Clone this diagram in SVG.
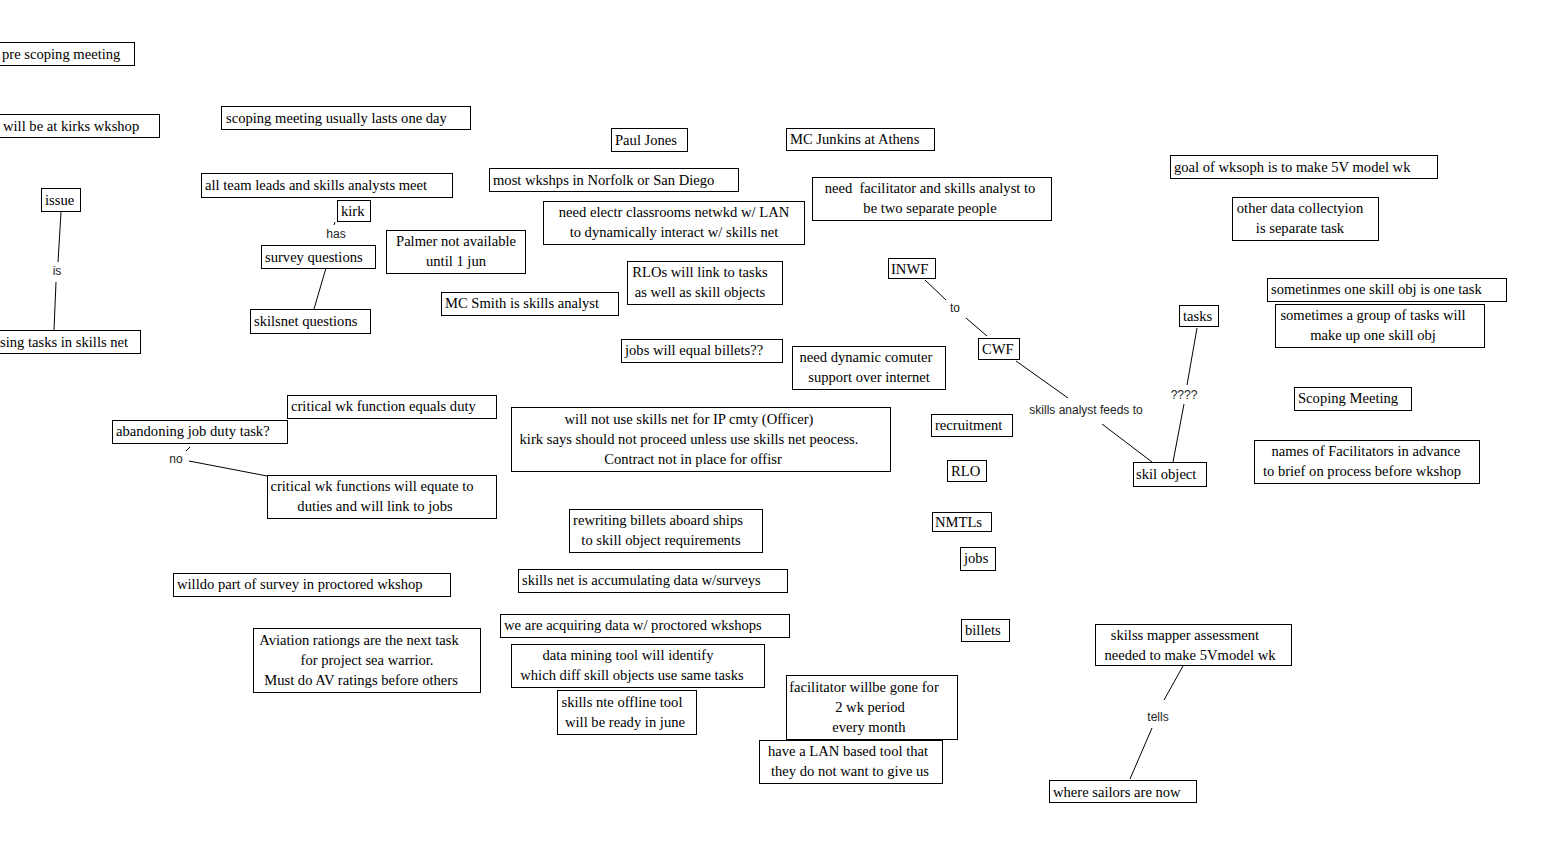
<svg xmlns="http://www.w3.org/2000/svg" width="1547" height="843" viewBox="0 0 1547 843">
<style>
.n rect{fill:#fff;stroke:#000;stroke-width:1}
.n text{font-family:"Liberation Serif","Times New Roman",serif;font-size:14.6px;fill:#000}
.c{text-anchor:middle}
.e line{stroke:#000;stroke-width:1}
.e text{font-family:"Liberation Sans",Arial,sans-serif;font-size:12px;fill:#222;text-anchor:middle}
</style>
<rect width="1547" height="843" fill="#fff"/>
<g id="connectors" class="e">
<line x1="61" y1="212" x2="58" y2="262"/><line x1="56" y1="282" x2="54" y2="330"/><text x="57" y="275">is</text>
<line x1="335" y1="222" x2="334" y2="225"/><text x="336" y="238">has</text>
<line x1="326" y1="268" x2="314" y2="309"/>
<line x1="190" y1="447" x2="186" y2="451"/><line x1="189" y1="461" x2="267" y2="476"/><text x="176" y="463">no</text>
<line x1="925" y1="280" x2="946" y2="300"/><line x1="966" y1="318" x2="987" y2="336"/><text x="955" y="312">to</text>
<line x1="1016" y1="361" x2="1068" y2="398"/><line x1="1102" y1="424" x2="1152" y2="462"/><text x="1086" y="414">skills analyst feeds to</text>
<line x1="1197" y1="328" x2="1187" y2="385"/><line x1="1184" y1="404" x2="1173" y2="462"/><text x="1184" y="399">????</text>
<line x1="1183" y1="666" x2="1164" y2="700"/><line x1="1152" y1="728" x2="1130" y2="779"/><text x="1158" y="721">tells</text>
</g>
<g id="n1" class="n"><rect x="-10.5" y="42.5" width="145" height="23"/><text x="2" y="59">pre scoping meeting</text></g>
<g id="n2" class="n"><rect x="-10.5" y="114.5" width="170" height="23"/><text x="3" y="131">will be at kirks wkshop</text></g>
<g id="n3" class="n"><rect x="221.5" y="106.5" width="249" height="23"/><text x="226" y="123">scoping meeting usually lasts one day</text></g>
<g id="n4" class="n"><rect x="41.5" y="188.5" width="39" height="23"/><text x="45" y="205">issue</text></g>
<g id="n5" class="n"><rect x="-10.5" y="330.5" width="151" height="23"/><text x="0" y="347">sing tasks in skills net</text></g>
<g id="n6" class="n"><rect x="201.5" y="173.5" width="251" height="24"/><text x="205" y="190">all team leads and skills analysts meet</text></g>
<g id="n7" class="n"><rect x="337.5" y="200.5" width="33" height="21"/><text x="341" y="216">kirk</text></g>
<g id="n8" class="n"><rect x="261.5" y="245.5" width="114" height="23"/><text x="265" y="262">survey questions</text></g>
<g id="n9" class="n"><rect x="250.5" y="309.5" width="120" height="24"/><text x="254" y="326">skilsnet questions</text></g>
<g id="n10" class="n"><rect x="386.5" y="230.5" width="139" height="43"/><text class="c" x="456" y="246">Palmer not available</text><text class="c" x="456" y="266">until 1 jun</text></g>
<g id="n11" class="n"><rect x="441.5" y="292.5" width="177" height="23"/><text x="445" y="308">MC Smith is skills analyst</text></g>
<g id="n12" class="n"><rect x="611.5" y="128.5" width="76" height="23"/><text x="615" y="145">Paul Jones</text></g>
<g id="n13" class="n"><rect x="786.5" y="128.5" width="148" height="22"/><text x="790" y="144">MC Junkins at Athens</text></g>
<g id="n14" class="n"><rect x="489.5" y="168.5" width="249" height="23"/><text x="493" y="185">most wkshps in Norfolk or San Diego</text></g>
<g id="n15" class="n"><rect x="543.5" y="201.5" width="261" height="43"/><text class="c" x="674" y="217">need electr classrooms netwkd w/ LAN</text><text class="c" x="674" y="237">to dynamically interact w/ skills net</text></g>
<g id="n16" class="n"><rect x="812.5" y="177.5" width="239" height="43"/><text class="c" x="930" y="193" xml:space="preserve">need  facilitator and skills analyst to</text><text class="c" x="930" y="213">be two separate people</text></g>
<g id="n17" class="n"><rect x="627.5" y="261.5" width="155" height="43"/><text class="c" x="700" y="277">RLOs will link to tasks</text><text class="c" x="700" y="297">as well as skill objects</text></g>
<g id="n18" class="n"><rect x="621.5" y="339.5" width="161" height="23"/><text x="625" y="355">jobs will equal billets??</text></g>
<g id="n19" class="n"><rect x="792.5" y="346.5" width="153" height="43"/><text class="c" x="866" y="362">need dynamic comuter</text><text class="c" x="869" y="382">support over internet</text></g>
<g id="n20" class="n"><rect x="888.5" y="258.5" width="47" height="20"/><text x="891" y="274">INWF</text></g>
<g id="n21" class="n"><rect x="978.5" y="338.5" width="41" height="21"/><text x="982" y="354">CWF</text></g>
<g id="n22" class="n"><rect x="1179.5" y="305.5" width="39" height="21"/><text x="1183" y="321">tasks</text></g>
<g id="n23" class="n"><rect x="1133.5" y="462.5" width="73" height="24"/><text x="1136" y="479">skil object</text></g>
<g id="n24" class="n"><rect x="1170.5" y="155.5" width="267" height="23"/><text x="1174" y="172">goal of wksoph is to make 5V model wk</text></g>
<g id="n25" class="n"><rect x="1232.5" y="197.5" width="146" height="43"/><text class="c" x="1300" y="213">other data collectyion</text><text class="c" x="1300" y="233">is separate task</text></g>
<g id="n26" class="n"><rect x="1267.5" y="278.5" width="239" height="23"/><text x="1271" y="294">sometinmes one skill obj is one task</text></g>
<g id="n27" class="n"><rect x="1275.5" y="304.5" width="209" height="43"/><text class="c" x="1373" y="320">sometimes a group of tasks will</text><text class="c" x="1373" y="340">make up one skill obj</text></g>
<g id="n28" class="n"><rect x="1294.5" y="387.5" width="117" height="23"/><text x="1298" y="403">Scoping Meeting</text></g>
<g id="n29" class="n"><rect x="1254.5" y="440.5" width="225" height="43"/><text class="c" x="1364" y="456" xml:space="preserve"> names of Facilitators in advance</text><text class="c" x="1362" y="476">to brief on process before wkshop</text></g>
<g id="n30" class="n"><rect x="287.5" y="395.5" width="209" height="23"/><text x="291" y="411">critical wk function equals duty</text></g>
<g id="n31" class="n"><rect x="112.5" y="420.5" width="175" height="23"/><text x="116" y="436">abandoning job duty task?</text></g>
<g id="n32" class="n"><rect x="267.5" y="475.5" width="229" height="43"/><text class="c" x="372" y="491">critical wk functions will equate to</text><text class="c" x="375" y="511">duties and will link to jobs</text></g>
<g id="n33" class="n"><rect x="511.5" y="407.5" width="379" height="64"/><text class="c" x="689" y="424">will not use skills net for IP cmty (Officer)</text><text class="c" x="689" y="444">kirk says should not proceed unless use skills net peocess.</text><text class="c" x="693" y="464">Contract not in place for offisr</text></g>
<g id="n34" class="n"><rect x="931.5" y="414.5" width="81" height="22"/><text x="935" y="430">recruitment</text></g>
<g id="n35" class="n"><rect x="947.5" y="460.5" width="39" height="21"/><text x="951" y="476">RLO</text></g>
<g id="n36" class="n"><rect x="932.5" y="512.5" width="59" height="19"/><text x="935" y="527">NMTLs</text></g>
<g id="n37" class="n"><rect x="960.5" y="547.5" width="35" height="23"/><text x="964" y="563">jobs</text></g>
<g id="n38" class="n"><rect x="961.5" y="619.5" width="48" height="22"/><text x="965" y="635">billets</text></g>
<g id="n39" class="n"><rect x="569.5" y="509.5" width="193" height="43"/><text class="c" x="658" y="525">rewriting billets aboard ships</text><text class="c" x="661" y="545">to skill object requirements</text></g>
<g id="n40" class="n"><rect x="518.5" y="569.5" width="269" height="23"/><text x="522" y="585">skills net is accumulating data w/surveys</text></g>
<g id="n41" class="n"><rect x="500.5" y="614.5" width="289" height="23"/><text x="504" y="630">we are acquiring data w/ proctored wkshops</text></g>
<g id="n42" class="n"><rect x="511.5" y="644.5" width="253" height="43"/><text class="c" x="628" y="660">data mining tool will identify</text><text class="c" x="632" y="680">which diff skill objects use same tasks</text></g>
<g id="n43" class="n"><rect x="557.5" y="690.5" width="139" height="44"/><text class="c" x="622" y="707">skills nte offline tool</text><text class="c" x="625" y="727">will be ready in june</text></g>
<g id="n44" class="n"><rect x="173.5" y="573.5" width="277" height="23"/><text x="177" y="589">willdo part of survey in proctored wkshop</text></g>
<g id="n45" class="n"><rect x="253.5" y="628.5" width="227" height="64"/><text class="c" x="359" y="645">Aviation rationgs are the next task</text><text class="c" x="367" y="665">for project sea warrior.</text><text class="c" x="361" y="685">Must do AV ratings before others</text></g>
<g id="n46" class="n"><rect x="786.5" y="675.5" width="171" height="64"/><text class="c" x="864" y="692">facilitator willbe gone for</text><text class="c" x="870" y="712">2 wk period</text><text class="c" x="869" y="732">every month</text></g>
<g id="n47" class="n"><rect x="759.5" y="740.5" width="183" height="43"/><text class="c" x="848" y="756">have a LAN based tool that</text><text class="c" x="850" y="776">they do not want to give us</text></g>
<g id="n48" class="n"><rect x="1095.5" y="624.5" width="196" height="41"/><text class="c" x="1185" y="640">skilss mapper assessment</text><text class="c" x="1190" y="660">needed to make 5Vmodel wk</text></g>
<g id="n49" class="n"><rect x="1049.5" y="780.5" width="147" height="22"/><text x="1053" y="797">where sailors are now</text></g>
</svg>
